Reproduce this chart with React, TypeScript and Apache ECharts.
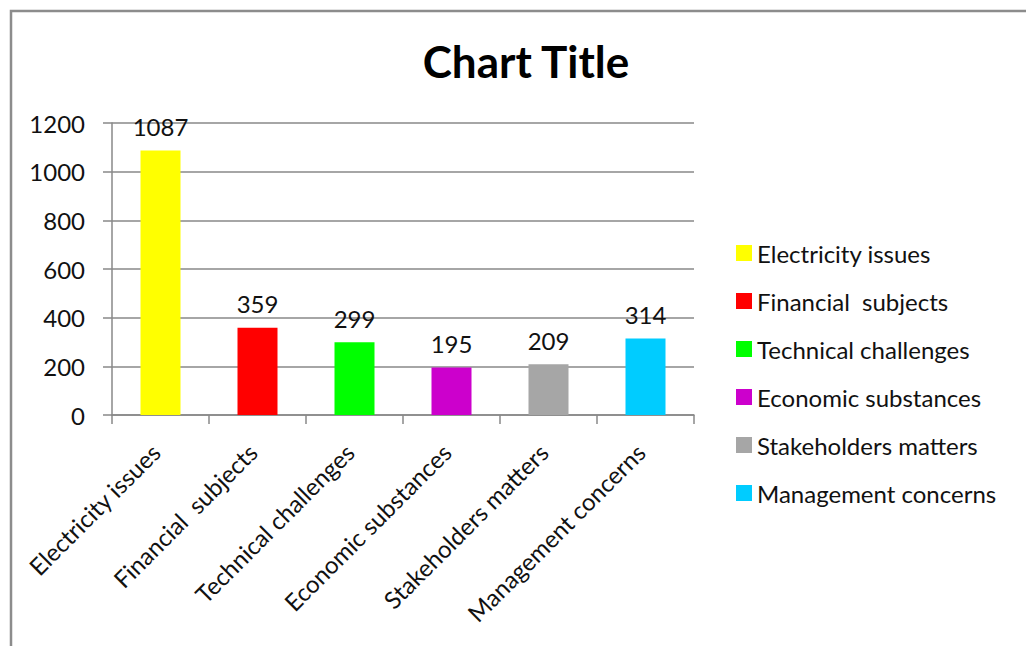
import React, { useEffect, useRef } from "react";
import * as echarts from "echarts";

const categories = [
  "Electricity issues",
  "Financial  subjects",
  "Technical challenges",
  "Economic substances",
  "Stakeholders matters",
  "Management concerns",
];
const values = [1087, 359, 299, 195, 209, 314];
const colors = ["#ffff00", "#ff0000", "#00ff00", "#cc00cc", "#a6a6a6", "#00ccff"];
const yTicks = { min: 0, max: 1200, interval: 200 };

const FONT = "Lato, 'Open Sans', sans-serif";

export default function App() {
  const ref = useRef<HTMLDivElement>(null);
  useEffect(() => {
    if (!ref.current) return;
    const chart = echarts.init(ref.current, null, { renderer: "svg" });
    const series = categories.map((name, i) => ({
      name,
      type: "bar",
      barWidth: 40,
      barGap: "-100%",
      itemStyle: { color: colors[i] },
      label: {
        show: true,
        position: "top",
        distance: 12,
        fontFamily: FONT,
        fontSize: 24,
        color: "#111",
      },
      data: values.map((v, j) => (j === i ? v : null)),
    }));
    chart.setOption({
      animation: false,
      backgroundColor: "#fff",
      textStyle: { fontFamily: FONT },
      title: {
        text: "Chart Title",
        left: 521,
        top: 34,
        textAlign: "center",
        textStyle: { fontFamily: FONT, fontWeight: "bold", fontSize: 44, color: "#000" },
      },
      graphic: [
        {
          type: "rect",
          shape: { x: 11, y: 11, width: 1200, height: 800 },
          style: { fill: "none", stroke: "#8c8c8c", lineWidth: 2.5 },
          silent: true,
        },
      ],
      legend: {
        orient: "vertical",
        left: 731,
        top: 236,
        icon: "rect",
        itemWidth: 16,
        itemHeight: 16,
        itemGap: 24,
        data: categories,
        textStyle: { fontFamily: FONT, fontSize: 24, color: "#111", lineHeight: 24 },
      },
      grid: { left: 112, top: 123, right: 332, bottom: 231 },
      xAxis: {
        type: "category",
        data: categories,
        axisLine: { lineStyle: { color: "#888", width: 1.5 } },
        axisTick: { show: true, length: 9, lineStyle: { color: "#888", width: 1.5 } },
        axisLabel: {
          interval: 0,
          rotate: 45,
          margin: 28,
          padding: [0, 7, 0, 0],
          fontFamily: FONT,
          fontSize: 24,
          color: "#111",
        },
      },
      yAxis: {
        type: "value",
        min: yTicks.min,
        max: yTicks.max,
        interval: yTicks.interval,
        axisLine: { show: true, lineStyle: { color: "#888", width: 1.5 } },
        axisTick: { show: true, length: 9, lineStyle: { color: "#888", width: 1.5 } },
        splitLine: { lineStyle: { color: "#888", width: 1.5 } },
        axisLabel: {
          margin: 27,
          fontFamily: FONT,
          fontSize: 24,
          color: "#111",
          formatter: (v: number) => String(v),
        },
      },
      series,
    });
    return () => chart.dispose();
  }, []);
  return (
    <div
      ref={ref}
      style={{ position: "fixed", left: 0, top: 0, width: 1026, height: 646 }}
    />
  );
}
